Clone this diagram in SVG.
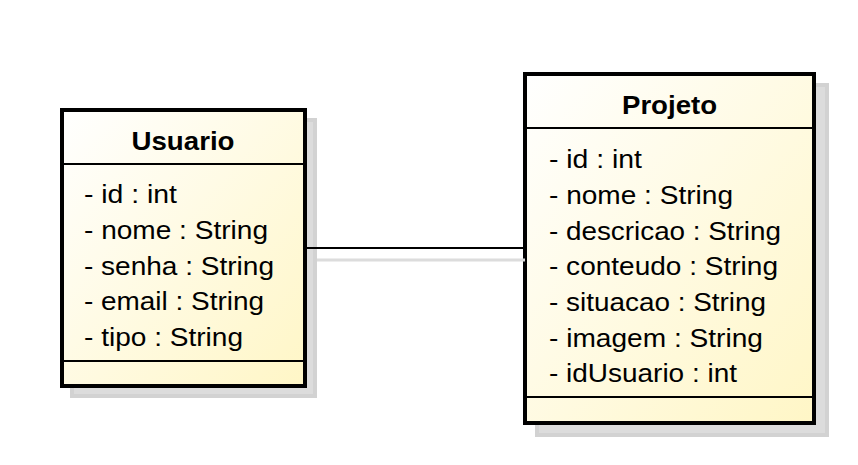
<svg xmlns="http://www.w3.org/2000/svg" width="858" height="465" viewBox="0 0 858 465">
<defs>
<linearGradient id="fillg" x1="0" y1="0" x2="1" y2="1">
<stop offset="0" stop-color="#ffffff"/>
<stop offset="1" stop-color="#fff6c6"/>
</linearGradient>
</defs>
<style>
.shadow{fill:#dcdcdc;stroke:#d2d2d2;stroke-width:4}
.box{fill:url(#fillg);stroke:#000;stroke-width:4}
.sep{stroke:#000;stroke-width:2}
.title{font-family:"Liberation Sans",Arial,sans-serif;font-weight:bold;font-size:25px;text-anchor:middle;fill:#000}
.attr{font-family:"Liberation Sans",Arial,sans-serif;font-size:25px;fill:#000}
</style>
<rect width="858" height="465" fill="#fff"/>
<g id="usuario">
<rect class="shadow" x="72" y="120" width="243" height="276"/>
<rect class="box" x="62" y="110" width="243" height="276"/>
<line class="sep" x1="62" y1="164" x2="305" y2="164"/>
<line class="sep" x1="62" y1="361" x2="305" y2="361"/>
<text class="title" x="183" y="150" textLength="103" lengthAdjust="spacingAndGlyphs">Usuario</text>
<text class="attr" x="84" y="203" textLength="93" lengthAdjust="spacingAndGlyphs">- id : int</text>
<text class="attr" x="84" y="239" textLength="184" lengthAdjust="spacingAndGlyphs">- nome : String</text>
<text class="attr" x="84" y="275" textLength="190" lengthAdjust="spacingAndGlyphs">- senha : String</text>
<text class="attr" x="84" y="310" textLength="180" lengthAdjust="spacingAndGlyphs">- email : String</text>
<text class="attr" x="84" y="346" textLength="159" lengthAdjust="spacingAndGlyphs">- tipo : String</text>
</g>
<g id="projeto">
<rect class="shadow" x="537" y="85" width="290" height="350"/>
<rect class="box" x="525" y="74" width="289" height="349"/>
<line class="sep" x1="525" y1="128" x2="814" y2="128"/>
<line class="sep" x1="525" y1="397" x2="814" y2="397"/>
<text class="title" x="669.5" y="114" textLength="95" lengthAdjust="spacingAndGlyphs">Projeto</text>
<text class="attr" x="549" y="168" textLength="93" lengthAdjust="spacingAndGlyphs">- id : int</text>
<text class="attr" x="549" y="204" textLength="184" lengthAdjust="spacingAndGlyphs">- nome : String</text>
<text class="attr" x="549" y="240" textLength="232" lengthAdjust="spacingAndGlyphs">- descricao : String</text>
<text class="attr" x="549" y="275" textLength="229" lengthAdjust="spacingAndGlyphs">- conteudo : String</text>
<text class="attr" x="549" y="311" textLength="217" lengthAdjust="spacingAndGlyphs">- situacao : String</text>
<text class="attr" x="549" y="347" textLength="214" lengthAdjust="spacingAndGlyphs">- imagem : String</text>
<text class="attr" x="549" y="382" textLength="188" lengthAdjust="spacingAndGlyphs">- idUsuario : int</text>
</g>
<g id="connectors">
<line x1="317" y1="260" x2="525" y2="260" stroke="#dcdcdc" stroke-width="3"/>
<line x1="307" y1="248" x2="523" y2="248" stroke="#000" stroke-width="2"/>
</g>
</svg>
